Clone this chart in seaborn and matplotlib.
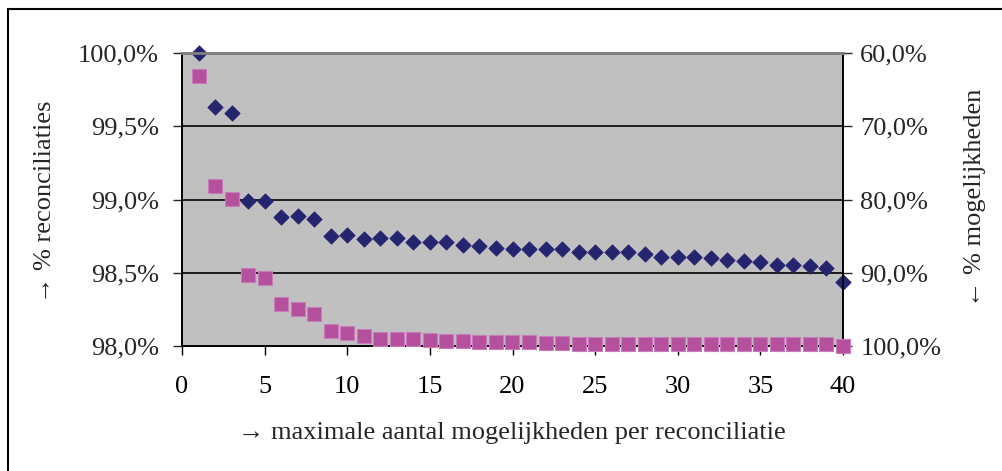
import matplotlib
matplotlib.use("Agg")
import matplotlib.pyplot as plt
from matplotlib.lines import Line2D
import seaborn as sns
import pandas as pd

# ---- data ----
n_options = list(range(1, 41))
pct_reconciliations = [100.0, 99.63, 99.59, 98.99, 98.99, 98.88, 98.89, 98.87, 98.75, 98.755,
                       98.73, 98.74, 98.74, 98.71, 98.71, 98.71, 98.69, 98.68, 98.67, 98.66,
                       98.66, 98.66, 98.66, 98.64, 98.64, 98.64, 98.64, 98.625, 98.61, 98.61,
                       98.61, 98.60, 98.59, 98.58, 98.57, 98.555, 98.555, 98.545, 98.53, 98.44]
pct_options = [63.1, 78.2, 79.9, 90.3, 90.7, 94.3, 94.9, 95.6, 97.9, 98.2,
               98.6, 99.0, 99.1, 99.1, 99.2, 99.25, 99.35, 99.4, 99.45, 99.5,
               99.5, 99.55, 99.55, 99.7, 99.7, 99.7, 99.7, 99.7, 99.7, 99.7,
               99.75, 99.75, 99.75, 99.75, 99.75, 99.75, 99.75, 99.75, 99.75, 100.0]
x_ticks = [0, 5, 10, 15, 20, 25, 30, 35, 40]
left_ticks = [98.0, 98.5, 99.0, 99.5, 100.0]
left_labels = ["98,0%", "98,5%", "99,0%", "99,5%", "100,0%"]
right_ticks = [60.0, 70.0, 80.0, 90.0, 100.0]
right_labels = ["60,0%", "70,0%", "80,0%", "90,0%", "100,0%"]
xlabel = "\u2192 maximale aantal mogelijkheden per reconciliatie"
ylabel_left = "\u2192 % reconciliaties"
ylabel_right = "\u2190 % mogelijkheden"

df = pd.DataFrame({"n": n_options, "rec": pct_reconciliations, "opt": pct_options})

sns.set_theme(style="white")
plt.rcParams["font.family"] = ["Liberation Serif", "DejaVu Serif"]
FS = 19

fig = plt.figure(figsize=(10.03, 4.71), dpi=100)
ax = fig.add_axes([182/1003, 1 - 346/471, (843-182)/1003, (346-53)/471])
ax.set_facecolor("#C0C0C0")
ax2 = ax.twinx()

sns.scatterplot(data=df, x="n", y="rec", ax=ax, marker="D", s=62, color="#25256F",
                edgecolor="#25256F", linewidth=0.5, clip_on=False, zorder=4, legend=False)
sns.scatterplot(data=df, x="n", y="opt", ax=ax2, marker="s", s=112, color="#B5509F",
                edgecolor="#C77BB8", linewidth=0.8, clip_on=False, zorder=4, legend=False)

ax.set_xlim(0, 40)
ax.set_ylim(98.0, 100.0)
ax2.set_ylim(100.0, 60.0)

ax.set_xticks(x_ticks)
ax.set_xticklabels([str(t) for t in x_ticks], fontsize=FS)
ax.set_yticks(left_ticks)
ax.set_yticklabels(left_labels, fontsize=FS)
ax2.set_yticks(right_ticks)
ax2.set_yticklabels(right_labels, fontsize=FS)

for y in [98.5, 99.0, 99.5]:
    ax.axhline(y, color="black", lw=1.2, zorder=1)

ax.tick_params(axis="x", direction="out", length=6.5, width=1, pad=15, colors="black", bottom=True)
ax.tick_params(axis="y", direction="out", length=6.5, width=1, pad=10, left=True)
ax2.tick_params(axis="y", direction="out", length=6.5, width=1, pad=6, right=True)

for a in (ax, ax2):
    for side in ("left", "right", "bottom"):
        a.spines[side].set_color("black")
        a.spines[side].set_linewidth(1.2)
    a.spines["top"].set_color("#808080")
    a.spines["top"].set_linewidth(2)
ax.set_xlabel("")
ax.set_ylabel("")
ax2.set_ylabel("")

fig.text(512/1003, 1 - 433/471, xlabel, fontsize=FS, ha="center", va="center")
fig.text(45/1003, 1 - 202/471, ylabel_left, fontsize=FS, rotation=90, ha="center", va="center")
fig.text(975/1003, 1 - 198/471, ylabel_right, fontsize=FS, rotation=90, ha="center", va="center")

# outer frame (top and left edges visible)
fig.add_artist(Line2D([8/1003, 1.0], [1 - 9/471, 1 - 9/471], transform=fig.transFigure, color="black", lw=1.5))
fig.add_artist(Line2D([8/1003, 8/1003], [0.0, 1 - 9/471], transform=fig.transFigure, color="black", lw=1.5))

fig.savefig("out.png", dpi=100)
